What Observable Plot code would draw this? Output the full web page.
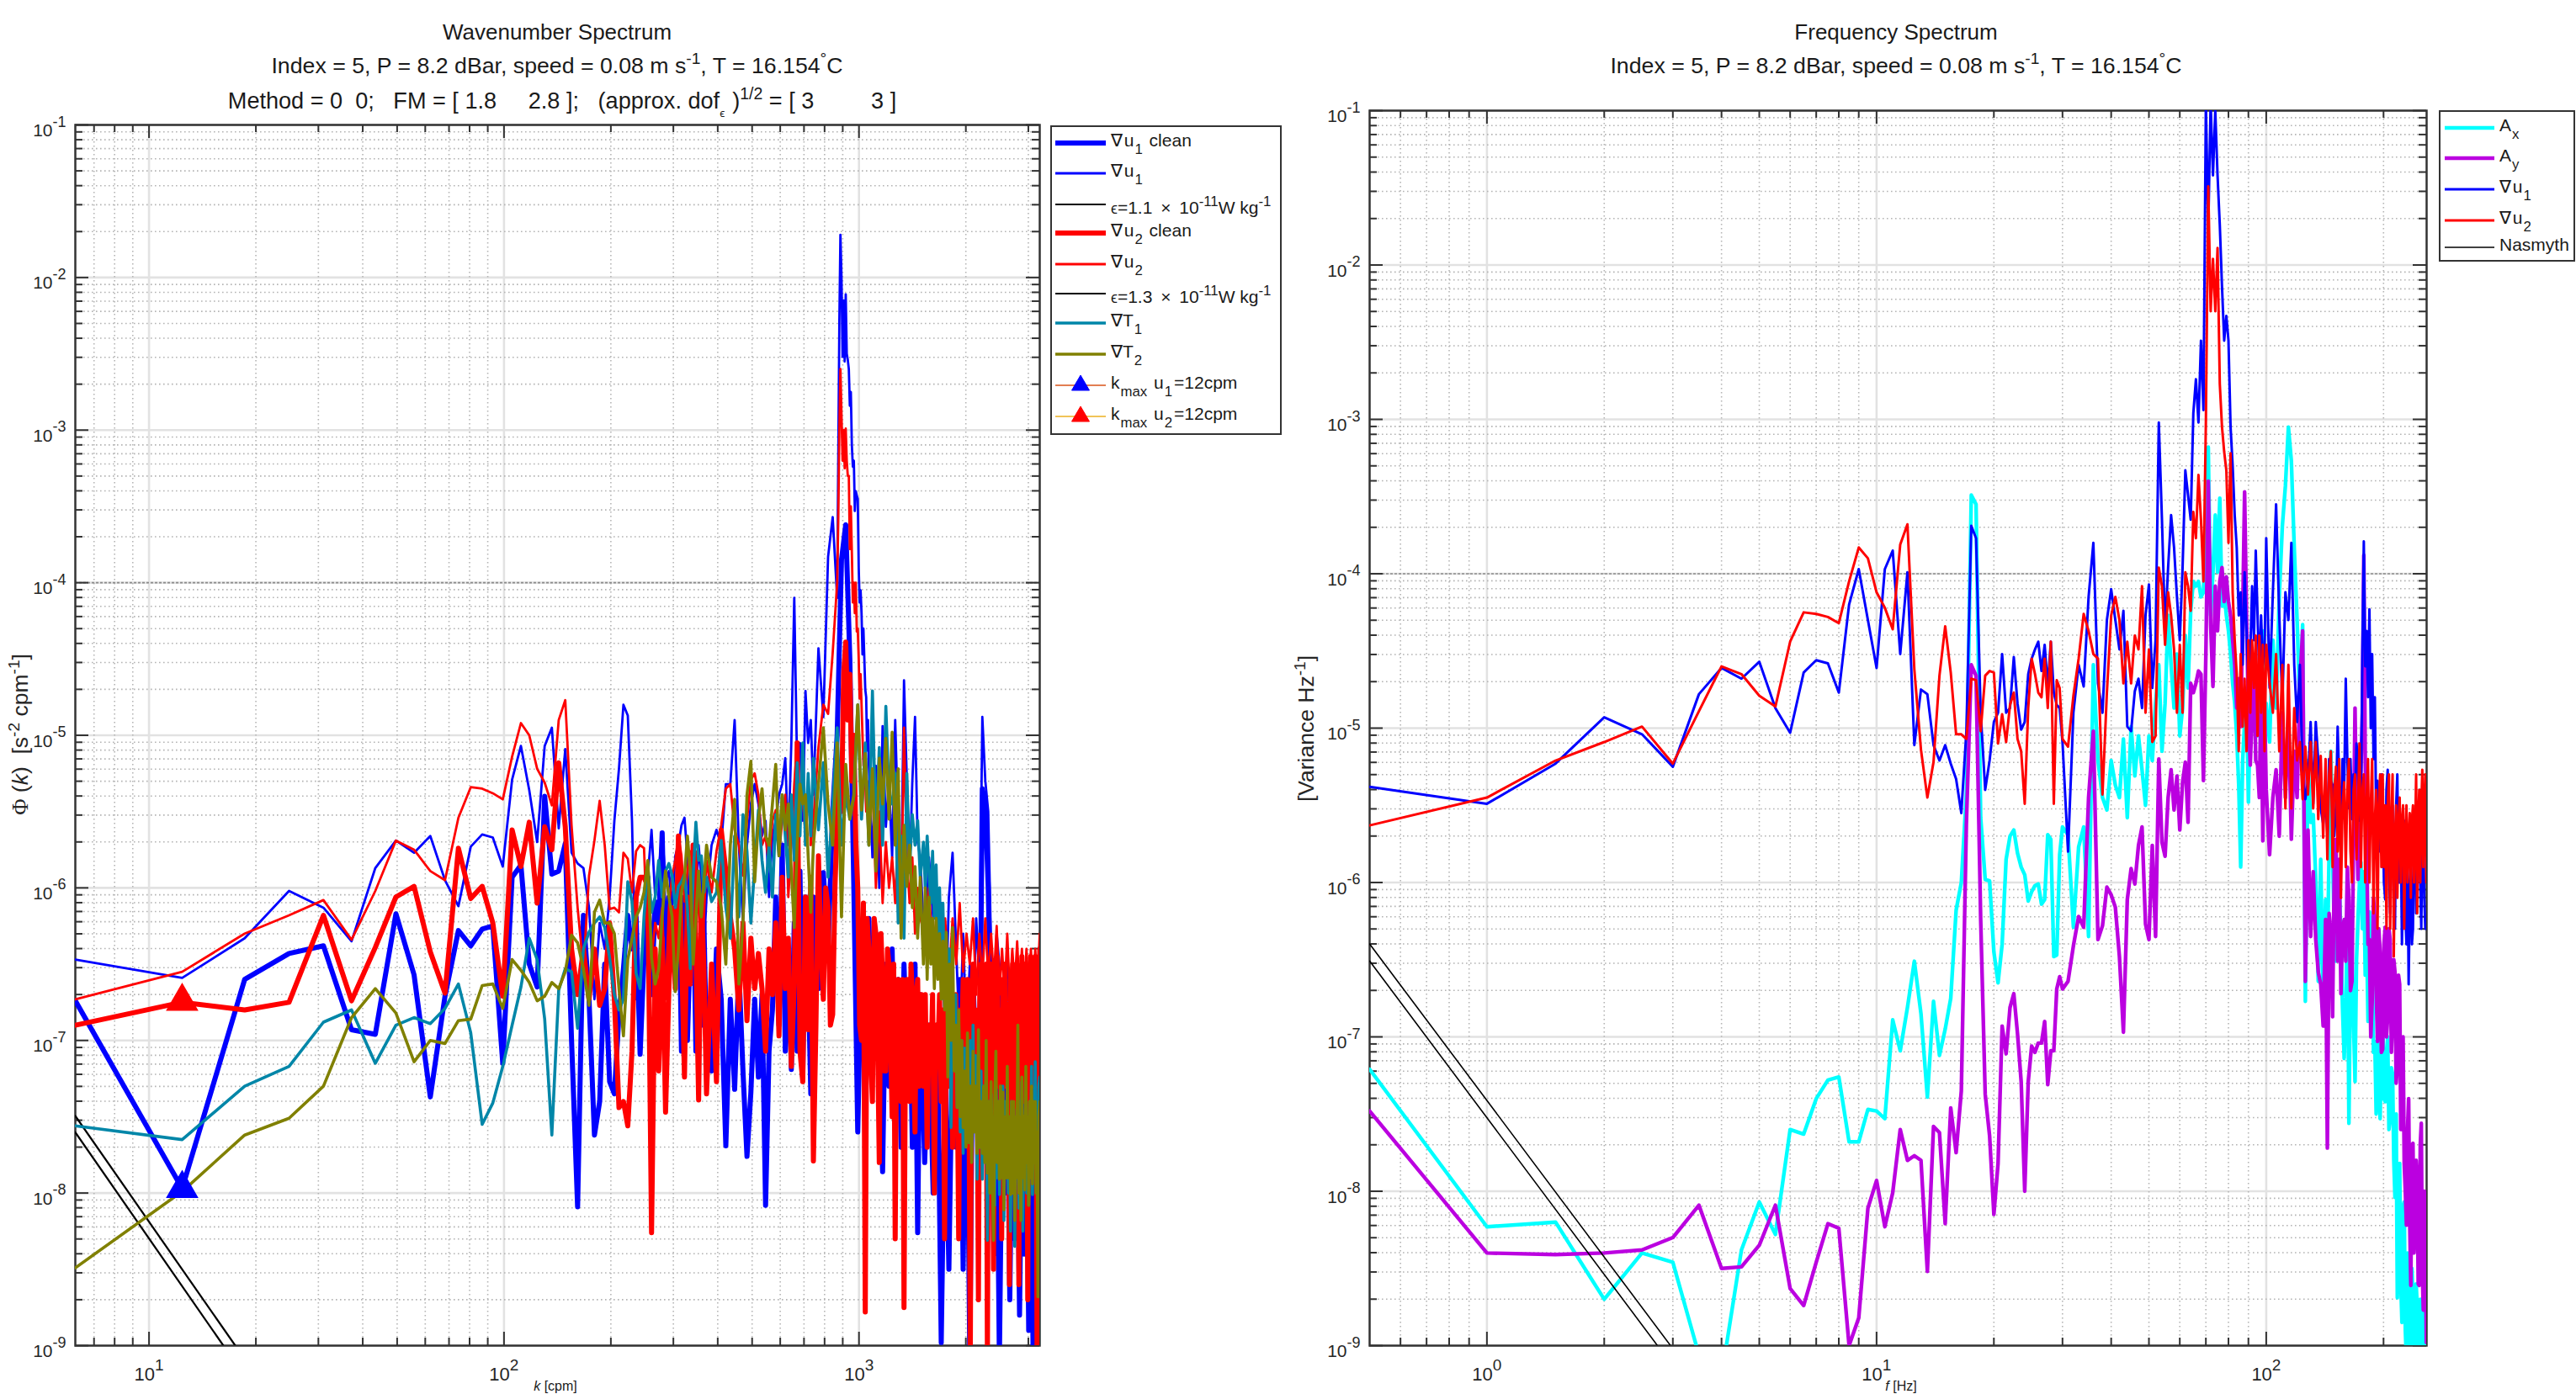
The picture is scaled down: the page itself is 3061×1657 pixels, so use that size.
<!DOCTYPE html>
<html><head><meta charset="utf-8">
<script src="https://cdn.jsdelivr.net/npm/d3@7"></script>
<script src="https://cdn.jsdelivr.net/npm/@observablehq/plot@0.6"></script>
<style>
html,body{margin:0;padding:0;background:#fff;width:3061px;height:1657px;overflow:hidden;font-family:"Liberation Sans",Arial,sans-serif;color:#262626}
#page{position:relative;width:3061px;height:1657px;overflow:hidden}
#page>div.plot{position:absolute;top:0}
.t{position:absolute;white-space:pre;line-height:1;font-size:26px;transform:translateX(-50%);color:#1a1a1a}
.t.big{font-size:26.7px}
.t.wide{font-size:27.1px}
.t.xl{font-size:16px}
.sup,.sub{font-size:.72em;position:relative;line-height:0}
.sup{top:-.55em}.sub{top:.5em}
.yl{position:absolute;white-space:pre;line-height:1;font-size:26.5px;transform:translate(-50%,-50%) rotate(-90deg)}
.serif{font-family:"Liberation Serif",serif}
.legend{position:absolute;background:#fff;border:2px solid #333;box-sizing:border-box}
.lab{position:absolute;white-space:pre;line-height:1;font-size:21px;color:#1a1a1a}
.lab .sup,.lab .sub{font-size:.8em}
.lab .sub{margin:0 2px 0 1px}
.lab .x{margin:0 4px}
.eps{font-size:.7em}
.lab .eps{font-size:.85em}
.gap{margin-right:9px}
svg.sw{position:absolute;left:0;top:0;overflow:visible}
</style></head><body><div id="page"></div>
<script>
// ---------- Left panel: bin numbers (k = bin * 6.2 cpm) and log10(Phi) of each series
const kStep = 6.2;
const kLow = [...d3.range(1,61),...d3.range(62,121,2)];
const kBins = [...kLow,...d3.range(124,241,4),...d3.range(247,514,7),521];
const kBinsPeak = [...kLow,...d3.range(124,141,4),...d3.range(141,173),...d3.range(176,241,4),...d3.range(247,514,7),521];
const kBinsDense = [...kLow,...d3.range(122,243,2),...d3.range(245,522,3)];
const kBinsTemp = [...kLow,...d3.range(124,241,4),...d3.range(245,522,3)];
const u1CleanLog = [
-6.74,-7.97,-6.60,-6.43,-6.38,-6.93,-6.96,-6.17,-6.57,-7.37,-6.71,-6.28,-6.38,-6.27,-6.25,-7.15,-5.93,-5.85,-6.50,-6.65,
-5.40,-5.91,-5.89,-5.71,-7.0,-8.09,-6.18,-6.73,-7.62,-7.40,-6.50,-7.27,-7.35,-6.83,-6.53,-6.18,-6.40,-6.19,-7.09,-6.46,
-5.93,-6.70,-6.09,-6.23,-5.64,-6.66,-6.06,-6.19,-6.40,-5.86,-7.07,-6.06,-7.0,-6.36,-5.93,-7.07,-6.40,-6.90,-6.23,-7.07,
-7.20,-6.40,-6.73,-7.69,-6.73,-7.32,-6.53,-7.20,-7.76,-7.34,-6.73,-7.24,-6.70,-8.08,-7.07,-6.80,-6.06,-6.90,-5.72,-7.07,-6.40,-7.19,-6.23,-7.07,-5.89,-7.24,-6.06,-6.56,-7.35,-6.06,
-6.66,-5.9,-6.4,-5.5,-5.0,-3.85,-3.62,-4.5,-6.0,-7.6,-6.4,-7.0,-6.2,-7.2,-6.3,-7.1,-7.86,-6.5,-7.3,-6.4,-7.5,-6.6,-7.7,-6.5,-7.1,-6.6,-7.7,-6.5,-8.26,-6.7,
-7.8,-6.9,-8.0,-6.9,-8.98,-7.2,-8.5,-6.9,-7.7,-6.6,-8.5,-6.8,-9.1,-6.6,-7.2,-7.5,-5.35,-5.45,-6.0,-6.9,-8.4,-7.3,-9.1,-7.5,-8.0,-7.2,-8.7,-7.3,-8.3,-7.4,-8.8,-7.4,-8.4,-7.3,-8.9,-7.2,-9.1,-7.3,-8.7,-7.5];
const u1Log = [
-6.47,-6.59,-6.33,-6.02,-6.13,-6.35,-5.87,-5.69,-5.77,-5.66,-5.95,-6.12,-5.73,-5.65,-5.67,-5.86,-5.29,-5.07,-5.36,-5.70,
-5.07,-4.95,-5.61,-5.09,-5.77,-5.84,-5.87,-6.13,-6.73,-6.23,-6.40,-6.06,-5.56,-5.22,-4.80,-4.87,-5.56,-6.73,-6.73,-6.23,
-5.92,-5.62,-6.06,-5.89,-5.64,-5.96,-5.89,-6.13,-5.79,-5.72,-5.59,-5.54,-5.79,-6.53,-6.33,-6.06,-5.72,-5.93,-6.40,-6.06,
-5.72,-5.62,-5.72,-5.32,-5.32,-4.90,-5.72,-6.23,-5.72,-5.45,-5.32,-5.45,-5.66,-5.56,-6.06,-5.66,-5.56,-5.39,-5.32,-5.15,-5.72,-5.05,-4.10,-5.22,-5.05,-5.56,-4.71,-5.05,-4.90,-5.39,
-4.43,-4.88,-3.83,-3.57,-4.1,
-3.2,-2.3,-1.72,-2.0,-2.52,-2.15,-2.55,-2.11,-2.5,-2.54,-2.6,-2.84,-2.75,-3.1,-3.24,-3.2,-3.53,-3.4,-3.43,-3.45,-3.9,-4.13,-4.05,-4.2,-4.47,-4.3,-4.5,-4.7,-4.75,-5.1,-4.9,-5.2,
-5.8,-5.2,-6.0,-4.94,-5.6,-5.3,-5.8,-4.9,-5.6,-6.0,-4.64,-5.3,-5.9,-5.3,-4.88,-5.7,-5.8,
-6.4,-5.8,-6.2,-6.2,-6.1,-7.0,-6.06,-5.77,-6.4,-7,-6.3,-7,-6.5,-6.9,-6.2,-6.6,-4.88,-5.3,-5.5,-6.4,-6.9,-6.3,-6.5,-7.1,-6.9,-6.4,-7,-6.9,-7.1,-6.6,-7.2,-6.9,-7.3,-6.8,-7.3,-6.9,-7.4,-7,-7.3,-6.8];
const u2CleanLog = [
-6.90,-6.75,-6.80,-6.75,-6.18,-6.74,-6.39,-6.06,-5.99,-6.42,-6.69,-5.74,-6.07,-5.99,-6.23,-6.71,-5.62,-5.86,-5.57,-6.10,
-5.60,-5.75,-5.18,-5.6,-6.40,-6.70,-6.40,-6.73,-6.40,-6.77,-6.66,-6.23,-6.73,-7.44,-7.40,-7.56,-7.07,-6.06,-5.93,-5.93,
-5.99,-8.26,-6.40,-7.20,-6.33,-7.47,-6.66,-6.13,-6.66,-5.66,-6.40,-7.24,-6.06,-6.63,-5.72,-6.40,-7.39,-6.06,-6.53,-7.35,
-6.50,-7.27,-5.62,-5.89,-6.19,-6.40,-6.80,-6.23,-6.87,-6.33,-6.66,-6.43,-6.66,-7.07,-6.40,-6.70,-6.23,-6.97,-5.93,-6.66,-6.33,-7.17,-6.63,-5.05,-7.07,-7.27,-6.06,-6.93,-5.93,-7.79,
-6.9,-5.79,-6.4,-6.73,-6.0,-6.13,-6.9,-6.83,-6.0,-5.56,-5.2,-5.5,-4.6,-4.39,-4.9,-4.6,-5.3,-5.0,-5.7,-6.0,-6.9,-7.0,-6.1,-8.78,-6.2,-6.4,-7.1,-7.4,-6.2,-6.3,-7.0,-7.8,-6.3,-6.6,-7.2,-7.2,-6.4,-6.5,-7.0,-7.5,-6.5,-8.3,-6.8,-6.6,-7.1,-7.4,-6.6,-8.75,-7.0,-6.6,-7.0,-7.4,-6.5,-6.7,-7.2,-7.6,-6.7,-6.6,-7.3,-7.2,-6.7,
-7.3,-6.7,-7.7,-6.9,-7.2,-6.7,-8.0,-6.9,-7.1,-6.7,-7.4,-6.8,-8.3,-7.0,-6.7,-7.3,-6.8,-7.7,-7.0,-6.7,-7.2,-8.3,-6.8,-7.0,-6.6,-7.6,-6.9,-6.6,-7.2,-9.1,-6.7,-6.5,-7.3,-6.8,-7.0,-8.7,-6.7,-6.5,-7.3,-6.8,-7.0,-6.5,-9.1,-6.7,-7.0,-6.5,-7.2,-8.5,-6.6,-6.9,-6.45,-7.3,-6.8,-7.1,-8.3,-6.6,-6.9,-6.5,-7.3,-6.8,-7.0,-8.6,-6.6,-6.9,-6.5,-7.3,-7.9,-6.7,-6.5,-7.0,-8.6,-6.6,-6.8,-6.45,-7.4,-6.7,-6.5,-7.0,-6.7,-8.7,-6.6,-6.9,-6.45,-7.3,-6.7,-6.5,-7.0,-6.45,-7.1,-9.1,-6.5,-6.8,-6.4];
const u2Log = [
-6.73,-6.55,-6.30,-6.18,-6.08,-6.34,-6.02,-5.69,-5.75,-5.89,-5.95,-5.54,-5.34,-5.35,-5.38,-5.42,-5.14,-4.92,-5.0,-5.22,
-5.31,-5.46,-4.90,-4.77,-5.59,-6.13,-6.53,-5.92,-5.69,-5.43,-5.72,-6.14,-6.13,-6.16,-5.77,-5.81,-6.03,-5.76,-5.72,-5.74,
-6.40,-6.46,-6.23,-6.33,-6.13,-6.73,-6.13,-5.92,-5.82,-5.66,-5.79,-6.09,-5.89,-5.76,-5.79,-5.76,-6.13,-6.53,-6.19,-5.82,
-6.03,-5.76,-5.59,-5.35,-5.32,-5.62,-5.72,-5.92,-5.56,-5.29,-5.25,-5.39,-5.72,-5.66,-5.86,-5.56,-5.49,-5.79,-5.56,-5.39,-6.06,-5.72,-5.32,-5.05,-5.56,-5.39,-5.66,-5.29,-5.72,-5.56,
-5.08,-4.8,-4.86,-4.46,-4.0,
-3.6,-3.0,-2.60,-2.9,-3.2,-3.0,-3.25,-2.99,-3.2,-3.3,-3.3,-3.78,-3.5,-3.8,-4.13,-4.0,-4.2,-4.0,-4.32,-4.3,-4.5,-4.76,-4.6,-4.8,-5.0,-5.2,-5.1,-5.3,-5.5,-5.3,-5.6,-5.6,
-5.3,-6.0,-5.5,-6.1,-5.7,-6.0,-5.8,-6.1,-5.6,-6.2,-4.95,-5.8,-6.1,-5.8,-6.3,-6.0,-6.2,
-6.3,-6.0,-6.5,-6.1,-6.6,-6.2,-6.6,-6.2,-6.5,-6.1,-6.55,-6.3,-6.5,-6.2,-6.7,-6.3,-6.6,-6.2,-6.6,-6.3,-6.6,-6.25,-6.7,-6.4,-6.7,-6.3,-6.7,-6.4,-6.65,-6.35,-6.7,-6.4,-6.7,-6.4,-6.7,-6.4,-6.7,-6.4,-6.65,-6.3];
const t1Log = [
-7.56,-7.65,-7.30,-7.17,-6.88,-6.80,-7.15,-6.90,-6.85,-6.89,-6.79,-6.63,-6.95,-7.55,-7.41,-7.17,-6.90,-6.65,-6.33,-6.47,
-6.86,-7.62,-6.67,-6.53,-6.55,-6.92,-6.40,-6.29,-6.23,-6.19,-6.26,-6.46,-6.70,-6.80,-6.73,-5.96,-6.09,-6.56,-6.66,-6.19,
-5.86,-6.16,-6.06,-5.82,-6.06,-5.89,-5.84,-5.92,-6.13,-5.99,-5.96,-5.91,-6.13,-6.53,-5.93,-5.57,-5.82,-5.79,-6.03,-5.93,
-6.09,-6.03,-5.69,-6.13,-6.33,-5.66,-6.19,-5.52,-5.76,-6.23,-5.86,-5.49,-5.82,-6.03,-5.72,-6.06,-5.52,-5.79,-5.39,-5.66,-5.93,-5.39,-5.82,-5.18,-5.66,-5.05,-5.72,-5.25,-5.66,-5.15,
-5.62,-5.18,-5.93,-5.45,-4.95,-5.72,-5.39,-5.55,-5.4,-4.80,-5.55,-5.05,-5.72,-4.71,-5.66,-5.08,-5.72,-4.81,-5.39,-5.45,-5.25,-6.23,-5.66,-6.33,-5.25,-5.86,-5.52,-5.72,-5.56,-5.93,
-5.7,-6.0,-5.66,-5.9,-6.1,-5.76,-6.2,-5.85,-6.3,-6.0,-6.5,-6.1,-6.7,-6.3,-7.0,-6.4,-7.57,-6.6,-7.1,-6.7,-7.44,-6.9,-7.6,-7.0,-7.74,-7.05,-7.5,-7.1,-7.67,-7.0,-7.7,-6.9,-7.6,-7.1,-7.91,-7.2,-7.7,-7.2,-7.91,-7.3,-7.6,-7.25,-8.31,-7.4,-7.9,-7.35,-8.0,-7.5,-8.08,-7.3,-7.9,-7.4,-8.01,-7.3,-7.7,-7.3,-8.18,-7.4,-7.9,-7.4,-8.0,-7.5,-8.25,-7.4,-7.9,-7.45,-8.35,-7.5,-7.9,-7.5,-8.1,-7.4,-7.8,-7.27,-8.25,-7.5,-7.9,-7.34,-8.0,-7.5,-8.08,-7.4,-7.8,-7.17,-8.01,-7.4,-7.7,-7.14,-7.8,-7.4,-7.74,-7.3,-7.24];
const t2Log = [
-8.49,-7.99,-7.62,-7.51,-7.30,-6.85,-6.66,-6.82,-7.14,-7.0,-7.02,-6.87,-6.86,-6.64,-6.63,-6.79,-6.47,-6.54,-6.62,-6.74,
-6.71,-6.62,-6.66,-6.55,-6.31,-6.36,-6.53,-6.77,-6.16,-6.08,-6.23,-6.23,-6.30,-6.66,-6.97,-6.47,-6.33,-6.19,-6.13,-6.03,
-5.82,-6.46,-6.63,-6.53,-6.19,-5.89,-6.06,-6.19,-6.68,-6.40,-6.03,-5.93,-5.66,-5.89,-6.50,-6.19,-5.89,-6.19,-5.96,-5.72,
-5.93,-5.96,-6.13,-6.50,-5.72,-5.42,-6.63,-6.23,-5.39,-5.17,-5.96,-5.55,-5.35,-5.66,-5.72,-5.45,-5.19,-5.79,-5.39,-5.62,-5.45,-5.89,-6.26,-5.72,-5.32,-5.45,-5.39,-5.79,-6.16,-5.72,
-5.32,-4.95,-5.45,-5.72,-5.05,-6.19,-5.19,-5.55,-5.39,-4.80,-5.49,-5.12,-5.72,-5.22,-5.89,-5.15,-5.45,-5.02,-5.55,-4.98,-5.72,-5.22,-6.33,-5.59,-5.99,-5.72,-6.13,-5.86,-6.33,-5.93,
-6.5,-6.0,-6.6,-6.06,-6.5,-6.2,-6.66,-6.2,-6.6,-6.3,-6.73,-6.35,-6.8,-6.29,-7.24,-6.5,-7.0,-6.26,-7.2,-6.9,-7.44,-6.8,-7.5,-7.0,-7.57,-7.2,-7.7,-6.95,-7.67,-7.3,-7.8,-7.07,-7.6,-7.3,-7.74,-6.93,-7.7,-7.4,-7.74,-7.3,-7.8,-7.0,-7.87,-7.4,-8.0,-7.27,-7.9,-8.31,-7.4,-7.07,-7.8,-7.4,-7.91,-7.3,-7.9,-7.34,-8.11,-7.5,-7.9,-7.17,-7.9,-7.5,-8.01,-7.4,-8.0,-7.4,-8.18,-7.5,-7.9,-6.9,-8.0,-7.5,-8.18,-7.24,-7.9,-7.5,-7.98,-7.17,-7.8,-7.5,-8.08,-7.4,-7.9,-7.30,-7.94,-7.4,-7.8,-7.4,-8.0,-7.6,-8.68,-7.5,-7.40];
const eps1K = [6.2,17.5], eps1Phi = [3.2e-8,1e-9];
const eps2K = [6.2,16.2], eps2Phi = [2.5e-8,1e-9];
const kMaxK = [12.4], kMaxU1 = [1.07e-8], kMaxU2 = [1.8e-7];

// ---------- Right panel: bin numbers (f = bin * 0.5 Hz) and log10(variance density)
const fStep = 0.5;
const fBins = [...d3.range(1,61),...d3.range(62,201,2),...d3.range(204,285,4),...d3.range(287,516,3)];
const axLog = [
-7.21,-8.23,-8.20,-8.70,-8.40,-8.46,-9.06,-9.2,-8.38,-8.07,-8.28,-7.60,-7.63,-7.40,-7.28,-7.26,-7.68,-7.68,-7.47,-7.48,-7.53,-6.89,-7.09,-6.81,-6.51,-6.85,-7.39,-6.77,-7.12,-6.95,-6.75,-6.18,-6.00,-5.42,
-3.49,-3.55,-5.58,-5.98,-5.99,-6.45,-6.65,-6.40,-5.85,-5.70,-5.66,-5.81,-5.90,-5.95,-6.12,-6.06,-6.02,-6.01,-6.14,-6.11,-5.69,-5.72,-6.48,-6.47,-5.82,-5.64,
-5.69,-6.29,-5.77,-5.64,-6.35,-4.59,-5.21,-5.45,-5.53,-5.21,-5.37,-5.45,-5.07,-5.58,-4.99,-5.31,-5.05,-5.27,-5.5,-5.05,-5.21,-4.84,-4.59,-5.15,-4.84,-4.27,-4.59,-4.87,-4.52,-5.05,-4.87,-4.40,-4.74,-4.24,-4.05,-4.08,-4.05,-4.15,-4.12,-3.65,-3.18,-4.27,-3.99,-3.62,-3.99,-3.51,-4.21,-4.12,-4.27,-4.37,-4.52,-4.71,-4.84,-5.05,-5.37,-5.90,-5.21,-4.96,-4.74,-5.48,-4.90,-4.52,-5.02,-4.59,-5.05,-4.62,-5.15,-4.37,-5.02,-4.84,
-5.09,-4.43,-4.87,-4.15,-3.69,-3.43,-3.05,-3.27,-3.83,-4.30,-4.84,-4.33,-6.77,-5.21,-5.61,-5.56,-5.98,-6.64,-5.85,-6.77,-6.11,
-6.51,-5.8,-5.15,-5.82,-6.3,-6.51,-5.9,-5.98,-6.4,-6.82,-7.14,-6.82,-6.2,-7.56,-6.6,-6.45,-6.9,-7.29,-6.5,-6.24,-6.0,-5.87,-6.3,-5.93,-6.6,-6.35,-6.9,-6.19,-6.7,-6.40,-7.1,-7.03,-7.5,-7.32,-7.0,-7.53,-7.1,-6.89,-7.4,-7.42,-7.1,-7.0,-7.6,-7.53,-7.2,-7.24,-7.8,-8.04,-7.5,-8.69,-8.0,-7.82,-8.6,-8.85,-8.1,-8.07,-8.9,-9.1,-8.4,-8.61,-9.1,-9.05,-8.5,-8.69,-9.2,-9.1,-8.6,-8.74,-9.1,-8.98,-8.7,-8.82,-9.15,-9.05,-8.7,-8.79,-9.05];
const ayLog = [
-7.48,-8.40,-8.41,-8.40,-8.38,-8.30,-8.09,-8.50,-8.49,-8.35,-8.09,-8.63,-8.74,-8.46,-8.21,-8.24,-9.0,-8.82,-8.11,-7.93,-8.23,-8.01,-7.60,-7.80,-7.77,-7.80,-8.52,-7.58,-7.62,-8.21,-7.46,-7.75,-7.35,-5.62,
-4.59,-4.66,-6.24,-7.37,-7.64,-8.15,-7.82,-6.93,-7.11,-6.81,-6.72,-6.98,-7.29,-8.0,-7.29,-7.06,-7.10,-7.04,-7.04,-6.90,-7.31,-7.09,-7.09,-6.69,-6.61,-6.69,
-6.64,-6.41,-6.22,-6.29,-5.45,-5.02,-6.37,-6.28,-6.03,-6.08,-6.16,-6.48,-6.97,-6.11,-5.91,-6.01,-5.76,-5.64,-6.27,-6.37,-5.76,-6.35,-5.2,-5.74,-5.83,-5.45,-5.27,-5.53,-5.31,-5.66,-5.35,-5.22,-5.61,-4.71,-4.77,-4.71,-4.63,-4.65,-5.34,-4.52,-3.40,-4.33,-4.73,-4.08,-4.37,-4.05,-3.96,-4.18,-4.02,-4.18,-4.27,-4.43,-4.59,-4.87,-4.68,-4.99,-4.27,-3.47,-4.27,-4.90,-5.24,-4.90,-4.59,-5.21,-5.24,-5.45,-4.74,-5.73,-4.84,-5.40,
-5.82,-5.45,-5.27,-5.70,-4.90,-5.45,-4.90,-5.72,-5.15,-5.45,-4.71,-4.37,-6.64,-5.66,-6.35,-5.93,-6.37,-6.58,-6.66,-6.93,-6.24,
-7.72,-6.2,-6.32,-6.87,-5.9,-5.72,-6.51,-5.85,-6.72,-6.3,-6.24,-6.51,-5.9,-6.11,-6.7,-6.64,-5.7,-4.87,-5.6,-5.98,-5.5,-5.27,-4.9,-3.88,-5.2,-5.72,-6.4,-6.37,-7.0,-6.77,-6.1,-6.24,-6.7,-7.03,-6.3,-6.45,-7.1,-7.08,-6.4,-6.29,-7.0,-6.87,-6.3,-6.37,-7.1,-6.90,-6.5,-6.58,-7.3,-7.19,-6.6,-6.66,-7.6,-7.43,-7.0,-7.82,-8.0,-8.22,-7.6,-7.40,-8.2,-8.61,-7.7,-7.69,-8.4,-8.22,-7.8,-7.93,-8.6,-8.61,-7.7,-7.56,-8.5,-8.77,-8.0,-8.29,-8.98];
const fu1Log = [
-5.38,-5.49,-5.23,-4.93,-5.04,-5.25,-4.78,-4.61,-4.68,-4.57,-4.87,-5.03,-4.64,-4.56,-4.58,-4.77,-4.20,-3.97,-4.30,-4.61,-3.97,-3.85,-4.52,-3.99,-5.11,-4.75,-4.78,-5.11,-5.21,-5.11,-5.23,-5.33,-5.55,-5.02,
-3.69,-3.77,-4.90,-5.40,-5.21,-4.96,-4.90,-4.52,-4.90,-4.87,-4.54,-4.84,-5.01,-4.96,-4.65,-4.55,-4.49,-4.44,-4.63,-4.46,-4.73,-4.44,-4.77,-4.85,-4.87,-5.09,
-5.8,-4.90,-4.59,-4.73,-4.15,-3.80,-4.71,-4.90,-4.30,-4.10,-4.30,-4.49,-4.24,-4.99,-5.02,-4.76,-4.68,-4.87,-4.27,-4.07,-4.74,-4.43,-3.02,-3.65,-4.37,-3.96,-3.62,-3.83,-4.15,-4.43,-3.96,-3.33,-3.49,-3.65,-2.96,-2.74,-3.02,-2.49,-2.94,-0.95,-1.77,-0.95,-1.42,-1.0,-1.42,-1.74,-2.14,-2.49,-2.33,-2.49,-3.05,-3.30,-3.62,-3.83,-4.27,-4.12,-4.59,-3.99,-4.37,-4.71,-4.52,-4.08,-4.43,-3.85,-4.27,-4.68,-4.27,-4.59,-4.52,-3.77,
-4.74,-4.12,-3.55,-4.27,-4.84,-4.12,-4.30,-3.80,-4.59,-4.96,-4.59,-5.31,-5.46,-5.34,-4.96,-5.49,-4.96,-5.21,-5.52,-5.62,-5.46,
-5.68,-5.2,-5.34,-5.37,-5.7,-5.52,-4.99,-5.37,-5.65,-5.2,-5.40,-4.68,-5.2,-5.52,-5.2,-5.59,-5.3,-5.43,-5.1,-5.21,-5.6,-5.52,-4.5,-3.79,-4.6,-4.37,-4.8,-4.23,-5.0,-4.52,-5.2,-4.80,-5.6,-5.34,-5.8,-5.68,-5.3,-5.52,-6.0,-6.11,-5.4,-5.27,-5.9,-6.2,-5.6,-5.5,-6.1,-6.3,-5.5,-5.3,-6.0,-6.0,-5.7,-6.4,-5.9,-5.6,-6.2,-6.4,-5.8,-6.66,-6.1,-5.9,-6.4,-6.3,-5.7,-5.6,-6.2,-6.1,-5.7,-5.5,-6.0,-6.3,-5.7,-5.6,-6.1,-6.3,-6.3];
const fu2Log = [
-5.63,-5.45,-5.21,-5.09,-4.99,-5.23,-4.89,-4.60,-4.65,-4.79,-4.86,-4.44,-4.25,-4.26,-4.28,-4.32,-4.05,-3.83,-3.90,-4.12,-4.22,-4.36,-3.81,-3.68,-4.62,-5.14,-5.45,-5.22,-4.66,-4.34,-4.64,-5.04,-5.04,-5.07,
-4.68,-4.69,-5.02,-4.66,-4.63,-4.64,-5.10,-4.91,-5.09,-4.85,-4.77,-5.07,-5.15,-5.49,-4.87,-4.55,-4.65,-4.77,-4.80,-4.55,-4.87,-4.44,-5.49,-4.69,-4.74,-5.07,
-5.12,-4.79,-4.55,-4.26,-4.37,-4.52,-4.55,-5.43,-4.77,-4.27,-4.15,-4.30,-4.71,-4.44,-4.71,-4.40,-4.49,-4.08,-4.90,-4.49,-5.09,-5.05,-3.96,-4.08,-4.46,-4.12,-4.27,-4.49,-4.90,-4.46,-4.90,-3.99,-4.08,-4.24,-3.60,-3.77,-3.36,-3.65,-4.05,-3.02,-1.49,-2.30,-1.96,-2.30,-1.89,-2.77,-3.05,-3.21,-3.33,-3.80,-3.22,-4.12,-4.43,-4.65,-5.15,-4.52,-4.99,-4.68,-5.15,-4.43,-4.90,-4.43,-4.74,-4.40,-5.05,-4.40,-4.90,-4.46,-5.15,-4.46,
-4.71,-4.90,-4.52,-5.15,-4.59,-5.52,-4.59,-5.52,-4.87,-5.21,-5.09,-5.46,-5.12,-5.43,-5.09,-5.52,-5.09,-5.59,-5.18,-5.71,-5.2,
-5.85,-5.3,-5.15,-5.9,-5.4,-5.25,-5.8,-5.2,-6.1,-5.5,-5.35,-5.9,-5.4,-5.2,-5.8,-6.0,-5.4,-5.3,-5.85,-5.5,-5.1,-5.9,-5.4,-5.3,-6.0,-5.45,-5.2,-6.0,-5.5,-5.2,-6.2,-5.6,-5.4,-6.3,-5.5,-5.3,-5.9,-5.3,-5.9,-5.5,-6.3,-5.5,-5.3,-6.3,-5.6,-5.3,-6.48,-5.7,-5.5,-6.1,-5.6,-5.45,-6.0,-5.6,-5.5,-6.3,-5.7,-5.5,-6.0,-5.7,-5.55,-6.1,-5.6,-5.5,-6.0,-5.7,-5.3,-6.2,-5.6,-5.4,-6.0,-5.5,-5.27,-5.9,-5.5,-5.3,-6.0];
const nasAF = [0.5,2.96], nasAV = [4e-7,1e-9];
const nasBF = [0.5,2.74], nasBV = [3.1e-7,1e-9];

// ---------- Text
const xLabels = {left:"k [cpm]", right:"f [Hz]"};
const leftLegendLabels = [
 '∇\u200au<span class="sub">1</span> clean','∇\u200au<span class="sub">1</span>',
 '<span class="eps">ϵ</span>=1.1 <span class="x">×</span> 10<span class="sup">-11</span>W kg<span class="sup">-1</span>',
 '∇\u200au<span class="sub">2</span> clean','∇\u200au<span class="sub">2</span>',
 '<span class="eps">ϵ</span>=1.3 <span class="x">×</span> 10<span class="sup">-11</span>W kg<span class="sup">-1</span>',
 '∇T<span class="sub">1</span>','∇T<span class="sub">2</span>',
 'k<span class="sub">max</span> u<span class="sub">1</span>=12cpm','k<span class="sub">max</span> u<span class="sub">2</span>=12cpm'];
const leftLegendColors = ["#0000ff","#0000ff","#000","#ff0000","#ff0000","#000","#0086a8","#808000","#D95319","#EDB120"];
const leftLegendWidths = [6,2.8,2.2,6,2.8,2.2,3.6,3.6,1.6,1.6];
const leftLegendMarks = [null,null,null,null,null,null,null,null,"#0000ff","#ff0000"];
const leftLegendRows = [170,206,243,277,314,349,384,421,458,495];
const rightLegendLabels = ['A<span class="sub">x</span>','A<span class="sub">y</span>','∇\u200au<span class="sub">1</span>','∇\u200au<span class="sub">2</span>','Nasmyth'];
const rightLegendColors = ["#00ffff","#bb00e0","#0000ff","#ff0000","#000"];
const rightLegendWidths = [4.4,4.4,2.8,2.8,1.6];
const rightLegendRows = [152,188,225,262,294];

const page = document.getElementById("page");
const sup = s => `<span class="sup">${s}</span>`, sub = s => `<span class="sub">${s}</span>`;

function pts(bins, step, logs){
  if (bins.length !== logs.length) throw new Error("length mismatch " + bins.length + " vs " + logs.length);
  return bins.map((n,i) => ({x:n*step, y:10**logs[i]}));
}
const pairs = (xs,ys) => xs.map((x,i) => ({x, y:ys[i]}));
const decadeMinor = (lo,hi) => d3.range(lo,hi).flatMap(e => [2,3,4,5,6,7,8,9].map(m => m*10**e));

function frameMarks({xMajor,xMinor,innerW,innerH}){
  const yMajor = d3.range(-9,0).map(e => 10**e);
  const yMinor = decadeMinor(-9,-1);
  const dotted = {stroke:"#b4b4b4",strokeWidth:1.6,strokeDasharray:"1.6,3.4"};
  const ink = {stroke:"#333",strokeWidth:2};
  return [
    Plot.ruleY(yMajor,{stroke:"#e2e2e2",strokeWidth:2.6}),
    Plot.ruleX(xMajor,{stroke:"#e2e2e2",strokeWidth:2.6}),
    Plot.ruleY(yMinor,dotted), Plot.ruleX(xMinor,dotted),
    Plot.ruleY([1e-4],{stroke:"#8c8c8c",strokeWidth:1.6,strokeDasharray:"3,2"}),
    Plot.ruleY(yMinor,{...ink,insetRight:innerW-9}), Plot.ruleY(yMinor,{...ink,insetLeft:innerW-9}),
    Plot.ruleY(yMajor,{...ink,insetRight:innerW-16}), Plot.ruleY(yMajor,{...ink,insetLeft:innerW-16}),
    Plot.ruleX(xMinor,{...ink,insetTop:innerH-9}), Plot.ruleX(xMinor,{...ink,insetBottom:innerH-9}),
    Plot.ruleX(xMajor,{...ink,insetTop:innerH-16}), Plot.ruleX(xMajor,{...ink,insetBottom:innerH-16}),
    Plot.frame({stroke:"#333",strokeWidth:2.5}),
    Plot.axisY({ticks:yMajor,tickSize:0,tickPadding:11,fontSize:21,color:"#262626",label:null,
      tickFormat:d=>"10|"+Math.round(Math.log10(d))}),
    Plot.axisX({ticks:xMajor,tickSize:0,tickPadding:0,fontSize:22,color:"#262626",label:null,
      tickFormat:d=>"10|"+Math.round(Math.log10(d))})
  ];
}
function exponents(svg){
  const apply = (sel,base,rise,size) => d3.select(svg).selectAll(sel).each(function(){
    const [b,e] = this.textContent.split("|");
    if (e===undefined) return;
    this.textContent = b;
    this.setAttribute("y",base);
    const ts = document.createElementNS("http://www.w3.org/2000/svg","tspan");
    ts.setAttribute("dy",-rise); ts.setAttribute("font-size",size); ts.textContent = e;
    this.appendChild(ts);
  });
  apply('g[aria-label="y-axis tick label"] text',13.5,11.5,18);
  apply('g[aria-label="x-axis tick label"] text',41,12,19);
}
function mount(svg,left){
  const d=document.createElement("div"); d.className="plot"; d.style.left=left+"px"; d.appendChild(svg); page.appendChild(d);
  exponents(svg);
}
const line = (data,stroke,strokeWidth) => Plot.line(data,{x:"x",y:"y",stroke,strokeWidth,clip:true});

// ---------- Left panel
mount(Plot.plot({
  width:1240,height:1657,marginLeft:89,marginRight:5,marginTop:148,marginBottom:58,
  style:{fontFamily:"Liberation Sans",background:"transparent"},
  x:{type:"log",domain:[6.2,3230]},
  y:{type:"log",domain:[1e-9,1e-1]},
  marks:[
    ...frameMarks({xMajor:[10,100,1000],xMinor:[7,8,9,...decadeMinor(1,3),2000,3000],innerW:1146,innerH:1451}),
    line(pts(kBins,kStep,u1CleanLog),"#0000ff",6),
    line(pts(kBinsPeak,kStep,u1Log),"#0000ff",2.8),
    line(pairs(eps1K,eps1Phi),"#000",2.2),
    line(pts(kBinsDense,kStep,u2CleanLog),"#ff0000",6),
    line(pts(kBinsPeak,kStep,u2Log),"#ff0000",2.8),
    line(pairs(eps2K,eps2Phi),"#000",2.2),
    line(pts(kBinsTemp,kStep,t1Log),"#0086a8",3.6),
    line(pts(kBinsTemp,kStep,t2Log),"#808000",3.6),
    Plot.dot(pairs(kMaxK,kMaxU1),{x:"x",y:"y",symbol:"triangle",r:13.4,fill:"#0000ff",stroke:"#0000ff"}),
    Plot.dot(pairs(kMaxK,kMaxU2),{x:"x",y:"y",symbol:"triangle",r:13.4,fill:"#ff0000",stroke:"#ff0000"})
  ]
}),0);

// ---------- Right panel
mount(Plot.plot({
  width:1358,height:1657,marginLeft:97,marginRight:5,marginTop:131,marginBottom:58,
  style:{fontFamily:"Liberation Sans",background:"transparent"},
  x:{type:"log",domain:[0.5,258]},
  y:{type:"log",domain:[1e-9,1e-1]},
  marks:[
    ...frameMarks({xMajor:[1,10,100],xMinor:[.6,.7,.8,.9,...decadeMinor(0,2),200],innerW:1256,innerH:1468}),
    line(pts(fBins,fStep,axLog),"#00ffff",4.4),
    line(pts(fBins,fStep,ayLog),"#bb00e0",4.4),
    line(pts(fBins,fStep,fu1Log),"#0000ff",3),
    line(pts(fBins,fStep,fu2Log),"#ff0000",3),
    line(pairs(nasAF,nasAV),"#000",1.6),
    line(pairs(nasBF,nasBV),"#000",1.6)
  ]
}),1530);

// ---------- Titles and labels
function text(cls,html,left,top){const d=document.createElement("div");d.className=cls;d.innerHTML=html;d.style.left=left+"px";d.style.top=top+"px";page.appendChild(d);return d;}
const line2 = `Index = 5, P = 8.2 dBar, speed = 0.08 m s${sup("-1")}, T = 16.154${sup("°")}C`;
text("t","Wavenumber Spectrum",662,25);
text("t big",line2,662,65);
text("t wide",`Method = 0  0;   FM = [ 1.8     2.8 ];   (approx. dof<span class="sub gap"><span class="eps">ϵ</span></span>)${sup("1/2")} = [ 3         3 ]`,668,106);
text("t","Frequency Spectrum",2253,25);
text("t big",line2,2253,65);
text("yl",`<span class="serif">Φ</span> (<i>k</i>)  [s${sup("-2")} cpm${sup("-1")}]`,24,873);
text("yl",`[Variance Hz${sup("-1")}]`,1552,866);
text("t xl",`<i>${xLabels.left[0]}</i>${xLabels.left.slice(1)}`,660,1640);
text("t xl",`<i>${xLabels.right[0]}</i>${xLabels.right.slice(1)}`,2259,1640);

// ---------- Legends
function legend({box,labels,colors,widths,rows,marks,swX,textX}){
  const b=document.createElement("div");b.className="legend";
  Object.assign(b.style,{left:box[0]+"px",top:box[1]+"px",width:box[2]+"px",height:box[3]+"px"});
  page.appendChild(b);
  const s=d3.create("svg").attr("class","sw").attr("width",3061).attr("height",1657)
    .style("left",0).style("top",0).style("position","absolute");
  rows.forEach((y,i)=>{
    s.append("line").attr("x1",swX[0]).attr("x2",swX[1]).attr("y1",y).attr("y2",y).attr("stroke",colors[i]).attr("stroke-width",widths[i]);
    if(marks&&marks[i]){const c=(swX[0]+swX[1])/2;s.append("path").attr("d",`M${c},${y-12} L${c+10.5},${y+6} L${c-10.5},${y+6} Z`).attr("fill",marks[i]).attr("stroke",marks[i]);}
    const isEps = labels[i].includes("eps");
    text("lab",labels[i],textX,y+(isEps?11:4)-17.8);
  });
  page.appendChild(s.node());
}
legend({box:[1248,149,275,368],labels:leftLegendLabels,colors:leftLegendColors,widths:leftLegendWidths,rows:leftLegendRows,marks:leftLegendMarks,swX:[1254,1314],textX:1320});
legend({box:[2898,131,162,180],labels:rightLegendLabels,colors:rightLegendColors,widths:rightLegendWidths,rows:rightLegendRows,swX:[2905,2964],textX:2970});
</script></body></html>
